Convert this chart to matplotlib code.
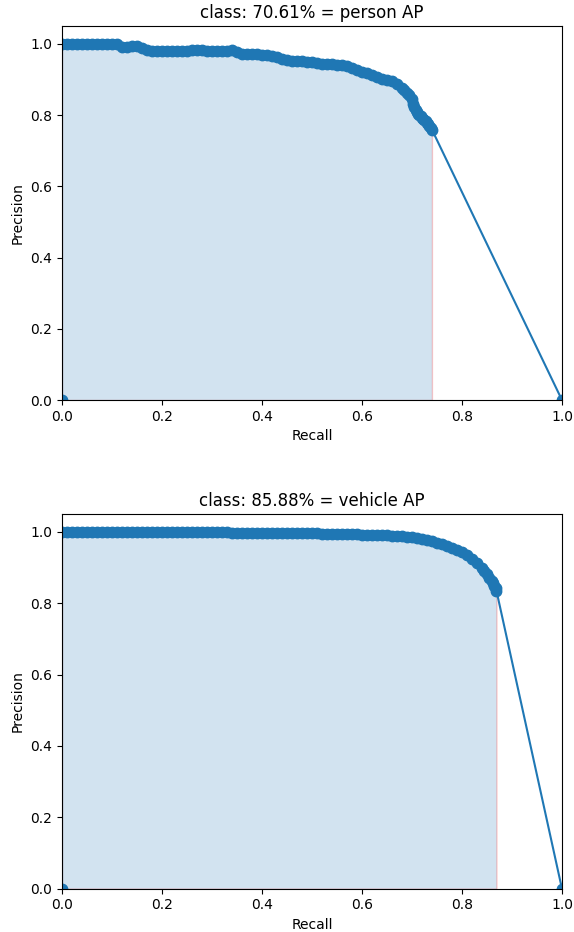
import matplotlib
matplotlib.use("Agg")
import matplotlib.pyplot as plt

# person class: recall / precision
person_rec = [0.00, 0.01, 0.02, 0.03, 0.04, 0.05, 0.06, 0.07, 0.08, 0.09,
              0.10, 0.11, 0.12, 0.13, 0.14, 0.15, 0.16, 0.17, 0.18, 0.19,
              0.20, 0.21, 0.22, 0.23, 0.24, 0.25, 0.26, 0.27, 0.28, 0.29,
              0.30, 0.31, 0.32, 0.33, 0.34, 0.35, 0.36, 0.37, 0.38, 0.39,
              0.40, 0.41, 0.42, 0.43, 0.44, 0.45, 0.46, 0.47, 0.48, 0.49,
              0.50, 0.51, 0.52, 0.53, 0.54, 0.55, 0.56, 0.57, 0.58, 0.59,
              0.60, 0.61, 0.62, 0.63, 0.64, 0.65, 0.66, 0.67, 0.68, 0.685,
              0.69, 0.695, 0.70, 0.7025, 0.705, 0.7075, 0.71, 0.7125, 0.715, 0.7175,
              0.72, 0.7225, 0.725, 0.7275, 0.73, 0.7325, 0.735, 0.7375, 0.74]
person_prec = [1.0, 1.0, 1.0, 1.0, 1.0, 1.0, 1.0, 1.0, 1.0, 1.0,
               1.0, 1.0, 0.992, 0.990, 0.993, 0.994, 0.988, 0.982, 0.980, 0.979,
               0.979, 0.979, 0.979, 0.979, 0.979, 0.981, 0.983, 0.983, 0.983, 0.980,
               0.980, 0.980, 0.980, 0.980, 0.983, 0.978, 0.972, 0.971, 0.970, 0.970,
               0.969, 0.968, 0.965, 0.962, 0.958, 0.955, 0.953, 0.952, 0.951, 0.949,
               0.948, 0.946, 0.944, 0.943, 0.942, 0.941, 0.940, 0.937, 0.932, 0.927,
               0.922, 0.918, 0.913, 0.907, 0.902, 0.899, 0.895, 0.888, 0.877, 0.870,
               0.862, 0.855, 0.845, 0.832, 0.822, 0.814, 0.808, 0.803, 0.800, 0.796,
               0.793, 0.789, 0.786, 0.782, 0.778, 0.774, 0.769, 0.764, 0.759]

# vehicle class
vehicle_rec = [0.00, 0.01, 0.02, 0.03, 0.04, 0.05, 0.06, 0.07, 0.08, 0.09,
               0.10, 0.11, 0.12, 0.13, 0.14, 0.15, 0.16, 0.17, 0.18, 0.19,
               0.20, 0.21, 0.22, 0.23, 0.24, 0.25, 0.26, 0.27, 0.28, 0.29,
               0.30, 0.31, 0.32, 0.33, 0.34, 0.35, 0.36, 0.37, 0.38, 0.39,
               0.40, 0.41, 0.42, 0.43, 0.44, 0.45, 0.46, 0.47, 0.48, 0.49,
               0.50, 0.51, 0.52, 0.53, 0.54, 0.55, 0.56, 0.57, 0.58, 0.59,
               0.60, 0.61, 0.62, 0.63, 0.64, 0.65, 0.66, 0.67, 0.68, 0.69,
               0.70, 0.71, 0.72, 0.73, 0.74, 0.75, 0.76, 0.77, 0.78, 0.79,
               0.80, 0.81, 0.82, 0.83, 0.84, 0.845, 0.85, 0.855, 0.86, 0.8625,
               0.865, 0.8675, 0.869]
vehicle_prec = [1.0, 1.0, 1.0, 1.0, 1.0, 1.0, 1.0, 1.0, 1.0, 1.0,
                1.0, 1.0, 1.0, 1.0, 1.0, 1.0, 1.0, 1.0, 1.0, 1.0,
                1.0, 1.0, 1.0, 1.0, 1.0, 1.0, 1.0, 1.0, 1.0, 1.0,
                1.0, 1.0, 1.0, 1.0, 0.998, 0.998, 0.998, 0.998, 0.998, 0.998,
                0.998, 0.998, 0.998, 0.998, 0.998, 0.997, 0.997, 0.997, 0.997, 0.997,
                0.996, 0.996, 0.995, 0.995, 0.995, 0.995, 0.994, 0.994, 0.993, 0.993,
                0.992, 0.992, 0.991, 0.991, 0.990, 0.990, 0.989, 0.988, 0.987, 0.986,
                0.985, 0.983, 0.981, 0.978, 0.975, 0.970, 0.965, 0.960, 0.955, 0.950,
                0.944, 0.935, 0.925, 0.912, 0.898, 0.890, 0.881, 0.872, 0.862, 0.856,
                0.849, 0.842, 0.835]

titles = ["class: 70.61% = person AP", "class: 85.88% = vehicle AP"]
curves = [(person_rec, person_prec), (vehicle_rec, vehicle_prec)]

fig = plt.figure(figsize=(5.74, 9.32), dpi=100)
boxes = [[0.108, 0.5708, 0.871, 0.4013], [0.108, 0.0465, 0.871, 0.402]]

for box, title, (rec, prec) in zip(boxes, titles, curves):
    ax = fig.add_axes(box)
    # same padding as voc_ap: 0 at the start, 1 / 0 at the end
    mrec = [0.0] + rec + [1.0]
    mpre = [0.0] + prec + [0.0]
    env = mpre[:]
    for i in range(len(env) - 2, -1, -1):
        env[i] = max(env[i], env[i + 1])
    ax.plot(mrec, mpre, '-o', color='C0', ms=7.5)
    # area under the envelope, closed at the last real recall
    area_x = mrec[:-1] + [mrec[-2]]
    area_y = env[:-1] + [0.0]
    ax.fill_between(area_x, 0, area_y, alpha=0.2, edgecolor='r')
    ax.set_title(title)
    ax.set_xlabel('Recall')
    ax.set_ylabel('Precision')
    ax.set_xlim([0.0, 1.0])
    ax.set_ylim([0.0, 1.05])

fig.savefig("out.png", dpi=100)
